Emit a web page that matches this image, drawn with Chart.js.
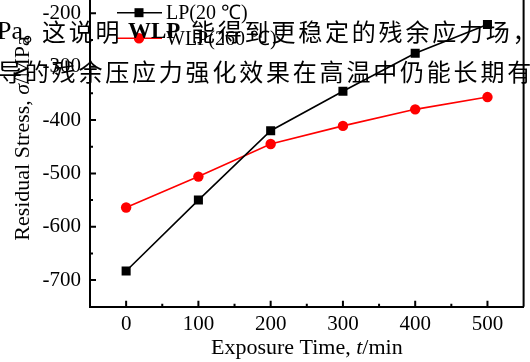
<!DOCTYPE html>
<html><head><meta charset="utf-8">
<script src="https://cdn.jsdelivr.net/npm/chart.js@4"></script>
<style>
html,body{margin:0;padding:0;background:#fff;overflow:hidden;width:530px;height:362px;}
#wrap{position:relative;width:530px;height:362px;overflow:hidden;background:#fff;}
#c{position:absolute;left:0;top:-35px;}
.ov{position:absolute;white-space:nowrap;color:#000;font-family:"Noto Sans CJK SC";font-size:24px;letter-spacing:2.8px;line-height:24px;}
.lat{font-family:"Liberation Serif";letter-spacing:0;}
</style></head><body>
<div id="wrap">
<canvas id="c" width="530" height="405"></canvas>
<div class="ov lat" style="left:-3px;top:19px;font-size:26px">Pa</div>
<div class="ov" style="left:23px;top:19px">。</div>
<div class="ov" style="left:42px;top:19px">这说明</div>
<div class="ov lat" style="left:128px;top:19px;font-weight:bold;font-size:23px">WLP</div>
<div class="ov" style="left:191px;top:19px">能得到更稳定的残余应力场，</div>
<div class="ov" style="left:-2px;top:59px">导的残余压应力强化效果在高温中仍能长期有</div>
</div>
<script>
const times = [0, 100, 200, 300, 400, 500];
const lpStress = [-683, -550, -420, -346, -275, -221];
const wlpStress = [-564, -506, -445, -411, -380, -357];
const xTicks = [0, 100, 200, 300, 400, 500];
const yTicks = [-200, -300, -400, -500, -600, -700];
const xMinor = [50, 150, 250, 350, 450];
const yMinor = [-250, -350, -450, -550, -650];
const seriesLabels = ['LP(20 \u2103)', 'WLP(260 \u2103)'];

const SERIF = 'Liberation Serif';
const OFF = 35;

const overlay = {
  id: 'overlay',
  afterDraw(chart) {
    const ctx = chart.ctx;
    const xs = chart.scales.x, ys = chart.scales.y;
    const a = chart.chartArea;
    ctx.save();
    ctx.strokeStyle = '#000';
    ctx.lineWidth = 2;
    ctx.beginPath();
    ctx.moveTo(a.right, a.top); ctx.lineTo(a.right, a.bottom);
    ctx.moveTo(a.left, a.top); ctx.lineTo(a.right, a.top);
    ctx.stroke();
    ctx.beginPath();
    xTicks.forEach(v => { const p = xs.getPixelForValue(v); ctx.moveTo(p, a.bottom); ctx.lineTo(p, a.bottom - 6); });
    xMinor.forEach(v => { const p = xs.getPixelForValue(v); ctx.moveTo(p, a.bottom); ctx.lineTo(p, a.bottom - 3); });
    yTicks.forEach(v => { const p = ys.getPixelForValue(v); ctx.moveTo(a.left, p); ctx.lineTo(a.left + 6, p); });
    yMinor.forEach(v => { const p = ys.getPixelForValue(v); ctx.moveTo(a.left, p); ctx.lineTo(a.left + 3, p); });
    ctx.stroke();

    function drawMixed(parts, cx, cy, size) {
      let total = 0;
      parts.forEach(p => { ctx.font = (p[1] ? 'italic ' : '') + size + 'px "' + SERIF + '"'; total += ctx.measureText(p[0]).width; });
      let x = cx - total / 2;
      ctx.textBaseline = 'middle';
      ctx.textAlign = 'left';
      parts.forEach(p => { ctx.font = (p[1] ? 'italic ' : '') + size + 'px "' + SERIF + '"'; ctx.fillText(p[0], x, cy); x += ctx.measureText(p[0]).width; });
    }
    ctx.fillStyle = '#000';
    drawMixed([['Exposure Time, ', false], ['t', true], ['/min', false]], (a.left + a.right) / 2, a.bottom + 41, 22);
    ctx.save();
    ctx.translate(23, 138.5 + OFF);
    ctx.rotate(-Math.PI / 2);
    drawMixed([['Residual Stress, ', false], ['\u03c3', true], ['/MPa', false]], 0, 0, 22);
    ctx.restore();

    const rows = [12.7 + OFF, 38.3 + OFF];
    chart.data.datasets.forEach((ds, i) => {
      const y = rows[i];
      ctx.strokeStyle = ds.borderColor;
      ctx.lineWidth = 1.6;
      ctx.beginPath(); ctx.moveTo(117, y); ctx.lineTo(162, y); ctx.stroke();
      ctx.fillStyle = ds.pointBackgroundColor;
      if (ds.pointStyle === 'rect') { ctx.fillRect(139 - 4.5, y - 4.5, 9, 9); }
      else { ctx.beginPath(); ctx.arc(139, y, 5.2, 0, Math.PI * 2); ctx.fill(); }
      ctx.fillStyle = '#000';
      ctx.font = '20px "' + SERIF + '"';
      ctx.textAlign = 'left';
      ctx.textBaseline = 'middle';
      ctx.fillText(ds.label, 166, y + 1);
    });
    ctx.restore();
  }
};

new Chart(document.getElementById('c'), {
  type: 'line',
  data: {
    datasets: [
      {
        label: seriesLabels[0],
        data: times.map((t, i) => ({ x: t, y: lpStress[i] })),
        borderColor: '#000', backgroundColor: '#000',
        pointBackgroundColor: '#000', pointBorderColor: '#000',
        pointStyle: 'rect', pointRadius: 6.4, borderWidth: 1.6, pointBorderWidth: 0,
        tension: 0
      },
      {
        label: seriesLabels[1],
        data: times.map((t, i) => ({ x: t, y: wlpStress[i] })),
        borderColor: '#ff0000', backgroundColor: '#ff0000',
        pointBackgroundColor: '#ff0000', pointBorderColor: '#ff0000',
        pointStyle: 'circle', pointRadius: 5.2, borderWidth: 1.6, pointBorderWidth: 0,
        tension: 0
      }
    ]
  },
  options: {
    responsive: false,
    animation: false,
    devicePixelRatio: 1,
    layout: { padding: { top: 20, right: 5, left: 0, bottom: 0 } },
    plugins: { legend: { display: false }, tooltip: { enabled: false } },
    scales: {
      x: {
        type: 'linear', min: -50, max: 550,
        afterBuildTicks(s) { s.ticks = xTicks.map(v => ({ value: v })); },
        afterFit(s) { s.height = 405 - (306.8 + OFF); },
        grid: { display: false, drawTicks: false },
        border: { display: true, color: '#000', width: 2 },
        ticks: { color: '#000', font: { family: SERIF, size: 21 }, padding: 5, maxRotation: 0 }
      },
      y: {
        type: 'linear', min: -750, max: -150,
        afterBuildTicks(s) { s.ticks = yTicks.map(v => ({ value: v })); },
        afterFit(s) { s.width = 90; },
        grid: { display: false, drawTicks: false },
        border: { display: true, color: '#000', width: 2 },
        ticks: { color: '#000', font: { family: SERIF, size: 21 }, padding: 9 }
      }
    }
  },
  plugins: [overlay]
});
</script>
</body></html>
